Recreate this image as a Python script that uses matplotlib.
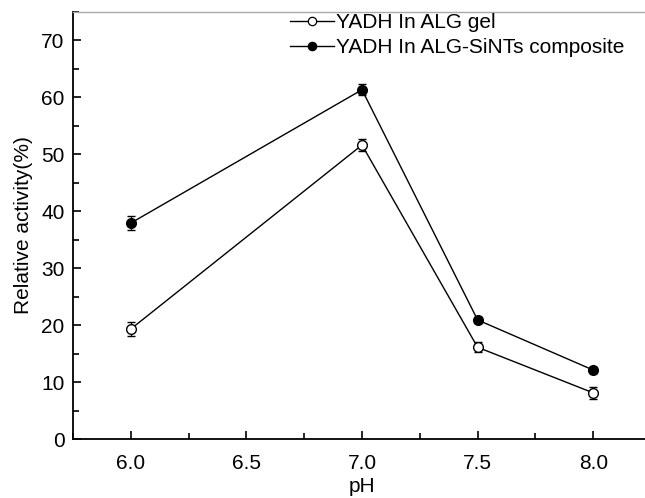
import matplotlib
matplotlib.use("Agg")
import matplotlib.pyplot as plt
from matplotlib.ticker import MultipleLocator
from matplotlib.lines import Line2D

plt.rcParams['font.family'] = ['Liberation Sans', 'DejaVu Sans']

ph = [6.0, 7.0, 7.5, 8.0]
gel = [19.3, 51.6, 16.1, 8.1]
gel_err = [1.3, 1.1, 0.9, 1.1]
comp = [37.9, 61.3, 20.9, 12.1]
comp_err = [1.2, 1.0, 0.6, 0.6]
labels = ["YADH In ALG gel", "YADH In ALG-SiNTs composite"]

FS = 15

fig = plt.figure(figsize=(6.45, 4.98), dpi=100)
ax = fig.add_axes([73/645, (498-439)/498, 578/645, (439-11.7)/498])

ax.errorbar(ph, gel, yerr=gel_err, color='black', lw=1.0, marker='o', ms=7,
            mfc='white', mec='black', mew=1.0, capsize=3, elinewidth=0.9,
            capthick=0.9)
ax.errorbar(ph, comp, yerr=comp_err, color='black', lw=1.0, marker='o', ms=7,
            mfc='black', mec='black', mew=1.0, capsize=3, elinewidth=0.9,
            capthick=0.9)

ax.set_xlim(5.75, 8.25)
ax.set_ylim(0, 75)
ax.xaxis.set_major_locator(MultipleLocator(0.5))
ax.xaxis.set_minor_locator(MultipleLocator(0.25))
ax.yaxis.set_major_locator(MultipleLocator(10))
ax.yaxis.set_minor_locator(MultipleLocator(5))
ax.set_xticks([6.0, 6.5, 7.0, 7.5, 8.0])
ax.set_xticklabels(['6.0', '6.5', '7.0', '7.5', '8.0'])
ax.tick_params(which='both', direction='in', top=False, right=False, labelsize=FS, width=1.2, color='black')
ax.tick_params(which='major', length=6)
ax.tick_params(which='minor', length=4)
ax.tick_params(axis='x', which='major', pad=11)
ax.tick_params(axis='y', which='major', pad=6)
for s in ['left', 'bottom']:
    ax.spines[s].set_linewidth(1.3)
ax.spines['top'].set_color('#aaaaaa')
ax.spines['top'].set_linewidth(1.0)
ax.spines['right'].set_visible(False)

ax.set_xlabel('pH', fontsize=FS, labelpad=3)
ax.set_ylabel('Relative activity(%)', fontsize=FS, labelpad=6)

handles = [
    Line2D([], [], color='black', lw=1.0, marker='o', ms=6, mfc='white', mec='black', mew=0.9),
    Line2D([], [], color='black', lw=1.0, marker='o', ms=6, mfc='black', mec='black', mew=0.9),
]
ax.legend(handles, labels, loc='upper left', bbox_to_anchor=(290/645, 1-13/498), bbox_transform=fig.transFigure,
          frameon=False, fontsize=FS, handlelength=2.1, handletextpad=0.1,
          labelspacing=0.3, borderaxespad=0, borderpad=0)

fig.savefig('out.png', dpi=100)
